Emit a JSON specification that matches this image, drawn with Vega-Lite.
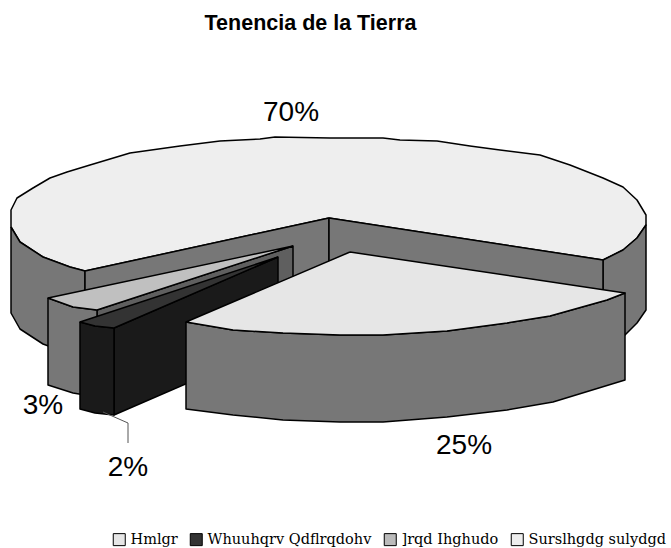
{"$schema":"https://vega.github.io/schema/vega-lite/v6.json","width":671,"height":548,"padding":0,"autosize":{"type":"none"},"background":"white","config":{"view":{"stroke":null}},
"title":{"text":"Tenencia de la Tierra","font":"Liberation Sans","fontSize":21.5,"fontWeight":"bold","color":"black","anchor":"middle","dx":-25,"offset":-34},
"datasets":{
"slices":[
{"slice":"Hmlgr","pct":"25%","lx":464,"ly":446},
{"slice":"Whuuhqrv Qdflrqdohv","pct":"2%","lx":128,"ly":468},
{"slice":"]rqd Ihghudo","pct":"3%","lx":43,"ly":406},
{"slice":"Surslhgdg sulydgd","pct":"70%","lx":291,"ly":113}],
"leader":[{"i":0,"x":103,"y":412},{"i":1,"x":128,"y":423},{"i":2,"x":128,"y":443}],
"outline":[
{"p":"a_top","i":0,"x":329,"y":218},{"p":"a_top","i":1,"x":85,"y":271},{"p":"a_top","i":2,"x":70,"y":267},{"p":"a_top","i":3,"x":43,"y":257},{"p":"a_top","i":4,"x":20,"y":242},{"p":"a_top","i":5,"x":11,"y":227},{"p":"a_top","i":6,"x":11,"y":210},{"p":"a_top","i":7,"x":17,"y":198},{"p":"a_top","i":8,"x":33,"y":188},{"p":"a_top","i":9,"x":50,"y":178},{"p":"a_top","i":10,"x":67,"y":172},{"p":"a_top","i":11,"x":90,"y":165},{"p":"a_top","i":12,"x":130,"y":153},{"p":"a_top","i":13,"x":180,"y":146},{"p":"a_top","i":14,"x":220,"y":141},{"p":"a_top","i":15,"x":260,"y":139},{"p":"a_top","i":16,"x":275,"y":137},{"p":"a_top","i":17,"x":330,"y":138},{"p":"a_top","i":18,"x":383,"y":138},{"p":"a_top","i":19,"x":400,"y":140},{"p":"a_top","i":20,"x":437,"y":141},{"p":"a_top","i":21,"x":470,"y":146},{"p":"a_top","i":22,"x":500,"y":150},{"p":"a_top","i":23,"x":540,"y":155},{"p":"a_top","i":24,"x":570,"y":165},{"p":"a_top","i":25,"x":603,"y":178},{"p":"a_top","i":26,"x":623,"y":187},{"p":"a_top","i":27,"x":637,"y":200},{"p":"a_top","i":28,"x":646,"y":215},{"p":"a_top","i":29,"x":646,"y":225},{"p":"a_top","i":30,"x":637,"y":238},{"p":"a_top","i":31,"x":623,"y":250},{"p":"a_top","i":32,"x":603,"y":260},{"p":"a_top","i":33,"x":329,"y":218},
{"p":"b_left","i":0,"x":11,"y":227},{"p":"b_left","i":1,"x":20,"y":242},{"p":"b_left","i":2,"x":43,"y":257},{"p":"b_left","i":3,"x":70,"y":267},{"p":"b_left","i":4,"x":85,"y":271},{"p":"b_left","i":5,"x":85,"y":358},{"p":"b_left","i":6,"x":70,"y":354},{"p":"b_left","i":7,"x":43,"y":344},{"p":"b_left","i":8,"x":20,"y":329},{"p":"b_left","i":9,"x":11,"y":313},{"p":"b_left","i":10,"x":11,"y":227},
{"p":"c_right","i":0,"x":603,"y":260},{"p":"c_right","i":1,"x":623,"y":250},{"p":"c_right","i":2,"x":637,"y":238},{"p":"c_right","i":3,"x":646,"y":225},{"p":"c_right","i":4,"x":646,"y":310},{"p":"c_right","i":5,"x":637,"y":323},{"p":"c_right","i":6,"x":625,"y":335},{"p":"c_right","i":7,"x":603,"y":347},{"p":"c_right","i":8,"x":603,"y":260},
{"p":"d_inl","i":0,"x":329,"y":218},{"p":"d_inl","i":1,"x":85,"y":271},{"p":"d_inl","i":2,"x":85,"y":358},{"p":"d_inl","i":3,"x":329,"y":305},{"p":"d_inl","i":4,"x":329,"y":218},
{"p":"e_inr","i":0,"x":329,"y":218},{"p":"e_inr","i":1,"x":603,"y":260},{"p":"e_inr","i":2,"x":603,"y":347},{"p":"e_inr","i":3,"x":329,"y":305},{"p":"e_inr","i":4,"x":329,"y":218},
{"p":"f_z_in","i":0,"x":97,"y":310},{"p":"f_z_in","i":1,"x":293,"y":246},{"p":"f_z_in","i":2,"x":293,"y":333},{"p":"f_z_in","i":3,"x":97,"y":397},{"p":"f_z_in","i":4,"x":97,"y":310},
{"p":"g_z_out","i":0,"x":48,"y":298},{"p":"g_z_out","i":1,"x":73,"y":307},{"p":"g_z_out","i":2,"x":97,"y":310},{"p":"g_z_out","i":3,"x":97,"y":397},{"p":"g_z_out","i":4,"x":73,"y":393},{"p":"g_z_out","i":5,"x":48,"y":385},{"p":"g_z_out","i":6,"x":48,"y":298},
{"p":"h_z_top","i":0,"x":293,"y":246},{"p":"h_z_top","i":1,"x":48,"y":298},{"p":"h_z_top","i":2,"x":73,"y":307},{"p":"h_z_top","i":3,"x":97,"y":310},{"p":"h_z_top","i":4,"x":293,"y":246},
{"p":"i_t_in","i":0,"x":114,"y":328},{"p":"i_t_in","i":1,"x":278,"y":257},{"p":"i_t_in","i":2,"x":278,"y":344},{"p":"i_t_in","i":3,"x":114,"y":415},{"p":"i_t_in","i":4,"x":114,"y":328},
{"p":"j_t_out","i":0,"x":80,"y":322},{"p":"j_t_out","i":1,"x":95,"y":326},{"p":"j_t_out","i":2,"x":114,"y":328},{"p":"j_t_out","i":3,"x":114,"y":415},{"p":"j_t_out","i":4,"x":95,"y":413},{"p":"j_t_out","i":5,"x":80,"y":409},{"p":"j_t_out","i":6,"x":80,"y":322},
{"p":"k_t_top","i":0,"x":278,"y":257},{"p":"k_t_top","i":1,"x":80,"y":322},{"p":"k_t_top","i":2,"x":95,"y":326},{"p":"k_t_top","i":3,"x":114,"y":328},{"p":"k_t_top","i":4,"x":278,"y":257},
{"p":"l_h_out","i":0,"x":186,"y":322},{"p":"l_h_out","i":1,"x":233,"y":330},{"p":"l_h_out","i":2,"x":283,"y":333},{"p":"l_h_out","i":3,"x":340,"y":335},{"p":"l_h_out","i":4,"x":383,"y":335},{"p":"l_h_out","i":5,"x":447,"y":331},{"p":"l_h_out","i":6,"x":507,"y":323},{"p":"l_h_out","i":7,"x":550,"y":316},{"p":"l_h_out","i":8,"x":607,"y":300},{"p":"l_h_out","i":9,"x":625,"y":293},{"p":"l_h_out","i":10,"x":625,"y":380},{"p":"l_h_out","i":11,"x":553,"y":402},{"p":"l_h_out","i":12,"x":507,"y":410},{"p":"l_h_out","i":13,"x":447,"y":417},{"p":"l_h_out","i":14,"x":383,"y":422},{"p":"l_h_out","i":15,"x":340,"y":422},{"p":"l_h_out","i":16,"x":283,"y":420},{"p":"l_h_out","i":17,"x":233,"y":415},{"p":"l_h_out","i":18,"x":186,"y":409},{"p":"l_h_out","i":19,"x":186,"y":322},
{"p":"m_h_top","i":0,"x":350,"y":252},{"p":"m_h_top","i":1,"x":186,"y":322},{"p":"m_h_top","i":2,"x":233,"y":330},{"p":"m_h_top","i":3,"x":283,"y":333},{"p":"m_h_top","i":4,"x":340,"y":335},{"p":"m_h_top","i":5,"x":383,"y":335},{"p":"m_h_top","i":6,"x":447,"y":331},{"p":"m_h_top","i":7,"x":507,"y":323},{"p":"m_h_top","i":8,"x":550,"y":316},{"p":"m_h_top","i":9,"x":607,"y":300},{"p":"m_h_top","i":10,"x":625,"y":293},{"p":"m_h_top","i":11,"x":350,"y":252}
]},
"layer":[
{"data":{"name":"outline"},"mark":{"type":"line","stroke":"black","strokeWidth":1.5,"strokeJoin":"round","clip":false},
"encoding":{"x":{"field":"x","type":"quantitative","scale":{"domain":[0,671]},"axis":null},"y":{"field":"y","type":"quantitative","scale":{"domain":[548,0]},"axis":null},"order":{"field":"i","type":"ordinal"},"detail":{"field":"p"},
"fill":{"field":"p","type":"nominal","legend":null,"scale":{"domain":["a_top","b_left","c_right","d_inl","e_inr","f_z_in","g_z_out","h_z_top","i_t_in","j_t_out","k_t_top","l_h_out","m_h_top"],"range":["#eeeeee","#777777","#777777","#777777","#777777","#5f5f5f","#777777","#c0c0c0","#1a1a1a","#1a1a1a","#333333","#777777","#e6e6e6"]}}}},
{"data":{"name":"leader"},"mark":{"type":"line","stroke":"#555555","strokeWidth":1},"encoding":{"x":{"field":"x","type":"quantitative","scale":{"domain":[0,671]},"axis":null},"y":{"field":"y","type":"quantitative","scale":{"domain":[548,0]},"axis":null},"order":{"field":"i","type":"ordinal"}}},
{"data":{"name":"slices"},"mark":{"type":"text","font":"Liberation Sans","fontSize":28,"color":"black","baseline":"middle","align":"center"},"encoding":{"x":{"field":"lx","type":"quantitative","scale":{"domain":[0,671]},"axis":null},"y":{"field":"ly","type":"quantitative","scale":{"domain":[548,0]},"axis":null},"text":{"field":"pct"}}},
{"data":{"name":"slices"},"mark":{"type":"point","filled":true,"shape":"square","opacity":0},"encoding":{"x":{"field":"lx","type":"quantitative","scale":{"domain":[0,671]},"axis":null},"y":{"field":"ly","type":"quantitative","scale":{"domain":[548,0]},"axis":null},
"fill":{"field":"slice","type":"nominal","sort":null,"scale":{"domain":["Hmlgr","Whuuhqrv Qdflrqdohv","]rqd Ihghudo","Surslhgdg sulydgd"],"range":["#e6e6e6","#333333","#bbbbbb","#eeeeee"]},
"legend":{"title":null,"orient":"none","legendX":112,"legendY":532,"direction":"horizontal","columns":4,"symbolType":"square","symbolSize":144,"symbolOpacity":1,"symbolStrokeColor":"black","symbolStrokeWidth":1,"labelFont":"DejaVu Serif","labelFontSize":14.5,"labelColor":"black","columnPadding":10,"labelOffset":4,"labelLimit":0}}}}
],
"resolve":{"scale":{"fill":"independent"}}}
